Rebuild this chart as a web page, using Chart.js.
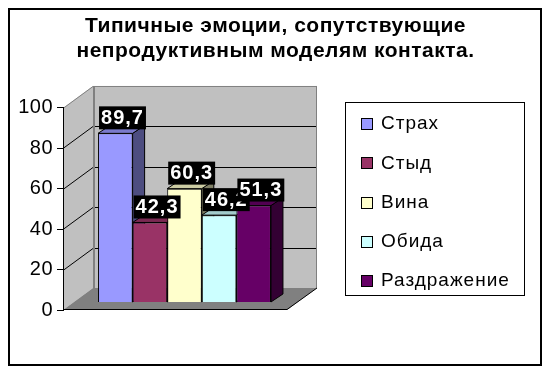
<!DOCTYPE html>
<html>
<head>
<meta charset="utf-8">
<script src="https://cdn.jsdelivr.net/npm/chart.js@4.4.1/dist/chart.umd.min.js"></script>
<style>
  html, body { margin: 0; padding: 0; background: #fff; }
  canvas { display: block; }
</style>
</head>
<body>
<canvas id="emotionsChart" width="551" height="373"></canvas>
<script>
var categories = ["Эмоции"];
var seriesNames = ["Страх", "Стыд", "Вина", "Обида", "Раздражение"];
var seriesValues = [89.7, 42.3, 60.3, 46.2, 51.3];
var seriesColors = ["#9999FF", "#993366", "#FFFFCC", "#CCFFFF", "#660066"];
var yTicks = [0, 20, 40, 60, 80, 100];
var titleLines = ["Типичные эмоции, сопутствующие", "непродуктивным моделям контакта."];

var FONT = "'Liberation Sans', Arial, sans-serif";
var WALL = { x: 30, y: -22 };   // depth of the 3d walls
var BAR_SHIFT = 9.5;            // bars stand a bit deeper than the front axis
var BAR_D = { x: 12, y: -8 };   // depth of each bar

function shade(hex, f) {
  var n = parseInt(hex.slice(1), 16);
  var r = Math.round(((n >> 16) & 255) * f);
  var g = Math.round(((n >> 8) & 255) * f);
  var b = Math.round((n & 255) * f);
  return "rgb(" + r + "," + g + "," + b + ")";
}

function poly(ctx, pts, fill, stroke, lw) {
  ctx.beginPath();
  ctx.moveTo(pts[0][0], pts[0][1]);
  for (var i = 1; i < pts.length; i++) ctx.lineTo(pts[i][0], pts[i][1]);
  ctx.closePath();
  if (fill) { ctx.fillStyle = fill; ctx.fill(); }
  if (stroke) { ctx.strokeStyle = stroke; ctx.lineWidth = lw || 1; ctx.stroke(); }
}

function line(ctx, x1, y1, x2, y2, color, lw) {
  ctx.beginPath();
  ctx.moveTo(x1, y1);
  ctx.lineTo(x2, y2);
  ctx.strokeStyle = color;
  ctx.lineWidth = lw || 1;
  ctx.stroke();
}

var excel3d = {
  id: "excel3d",
  beforeDraw: function (chart) {
    var ctx = chart.ctx;
    var a = chart.chartArea;
    var y = chart.scales.y;
    ctx.save();
    // back wall
    poly(ctx, [[a.left + WALL.x, a.top + WALL.y], [a.right + WALL.x, a.top + WALL.y],
               [a.right + WALL.x, a.bottom + WALL.y], [a.left + WALL.x, a.bottom + WALL.y]], "#c0c0c0");
    // left wall
    poly(ctx, [[a.left, a.top], [a.left + WALL.x, a.top + WALL.y],
               [a.left + WALL.x, a.bottom + WALL.y], [a.left, a.bottom]], "#c0c0c0");
    // floor
    poly(ctx, [[a.left, a.bottom], [a.right, a.bottom],
               [a.right + WALL.x, a.bottom + WALL.y], [a.left + WALL.x, a.bottom + WALL.y]], "#808080");
    // gridlines
    y.ticks.forEach(function (t) {
      var py = Math.round(y.getPixelForValue(t.value)) + 0.5;
      if (t.value > y.min && t.value < y.max) {
        line(ctx, a.left + WALL.x, py + WALL.y, a.right + WALL.x, py + WALL.y, "#000");
        line(ctx, a.left, py, a.left + WALL.x, py + WALL.y, "#000");
      }
    });
    // wall edges
    line(ctx, a.left, a.top + 0.5, a.left + WALL.x, a.top + WALL.y + 0.5, "#808080");
    line(ctx, a.left + WALL.x, a.top + WALL.y + 0.5, a.right + WALL.x, a.top + WALL.y + 0.5, "#808080");
    line(ctx, a.left + WALL.x + 1, a.top + WALL.y, a.left + WALL.x + 1, a.bottom + WALL.y, "#808080", 2);
    line(ctx, a.right + WALL.x - 0.5, a.top + WALL.y, a.right + WALL.x - 0.5, a.bottom + WALL.y, "#808080");
    line(ctx, a.left, a.bottom - 0.5, a.right, a.bottom - 0.5, "#000");
    line(ctx, a.right, a.bottom - 0.5, a.right + WALL.x, a.bottom + WALL.y, "#000");
    ctx.restore();
    // the old excel text is spaced out a little; title and ticks pick this up
    ctx.letterSpacing = "0.5px";
  },
  beforeDatasetsDraw: function (chart) {
    var ctx = chart.ctx;
    ctx.save();
    chart.data.datasets.forEach(function (ds, i) {
      var bar = chart.getDatasetMeta(i).data[0];
      var x0 = bar.x - bar.width / 2 + BAR_SHIFT;
      var x1 = bar.x + bar.width / 2 + BAR_SHIFT;
      var yt = bar.y, yb = bar.base;
      poly(ctx, [[x1, yt], [x1 + BAR_D.x, yt + BAR_D.y], [x1 + BAR_D.x, yb + BAR_D.y], [x1, yb]],
           shade(ds.backgroundColor, 0.5), "#000");
      poly(ctx, [[x0, yt], [x1, yt], [x1 + BAR_D.x, yt + BAR_D.y], [x0 + BAR_D.x, yt + BAR_D.y]],
           shade(ds.backgroundColor, 0.8), "#000");
    });
    ctx.restore();
    ctx.save();
    ctx.translate(BAR_SHIFT, 0);
  },
  afterDatasetsDraw: function (chart) {
    var ctx = chart.ctx;
    ctx.restore();
    ctx.save();
    ctx.font = "bold 20px " + FONT;
    ctx.letterSpacing = "1px";
    ctx.textBaseline = "middle";
    chart.data.datasets.forEach(function (ds, i) {
      var bar = chart.getDatasetMeta(i).data[0];
      var x0 = bar.x - bar.width / 2 + BAR_SHIFT;
      var txt = ds.data[0].toFixed(1).replace(".", ",");
      var w = ctx.measureText(txt).width + 4;
      var bottom = bar.y - 4;
      ctx.fillStyle = "#000";
      ctx.fillRect(x0 + 1, bottom - 23, w, 23);
      ctx.fillStyle = "#fff";
      ctx.fillText(txt, x0 + 3, bottom - 11);
    });
    ctx.restore();
  },
  afterDraw: function (chart) {
    var ctx = chart.ctx;
    ctx.save();
    // legend
    ctx.strokeStyle = "#000";
    ctx.lineWidth = 1;
    ctx.strokeRect(345.5, 102.5, 179, 193);
    ctx.font = "19px " + FONT;
    ctx.letterSpacing = "1px";
    ctx.textBaseline = "middle";
    chart.data.datasets.forEach(function (ds, i) {
      var cy = 124 + i * 39.3;
      ctx.fillStyle = ds.backgroundColor;
      ctx.fillRect(361.5, Math.round(cy - 6) + 0.5, 11, 11);
      ctx.strokeStyle = "#000";
      ctx.strokeRect(361.5, Math.round(cy - 6) + 0.5, 11, 11);
      ctx.fillStyle = "#000";
      ctx.fillText(ds.label, 381, cy);
    });
    // outer frame
    ctx.lineWidth = 2;
    ctx.strokeRect(9, 9, 532, 356);
    ctx.restore();
    ctx.letterSpacing = "0px";
  }
};

var datasets = seriesNames.map(function (name, i) {
  return {
    label: name,
    data: [seriesValues[i]],
    backgroundColor: seriesColors[i],
    borderColor: "#000",
    borderWidth: 1,
    yAxisID: "yb"
  };
});

new Chart(document.getElementById("emotionsChart"), {
  type: "bar",
  data: { labels: categories, datasets: datasets },
  options: {
    responsive: false,
    animation: false,
    events: [],
    layout: { padding: { left: 0, right: 0, top: 0, bottom: 63 } },
    datasets: { bar: { categoryPercentage: 0.772, barPercentage: 1 } },
    plugins: {
      legend: { display: false },
      tooltip: { enabled: false },
      title: {
        display: true,
        text: titleLines,
        color: "#000",
        font: { family: FONT, size: 21, weight: "bold", lineHeight: 1.19 },
        padding: { top: 14, bottom: 44 }
      }
    },
    scales: {
      x: { display: false, offset: true },
      y: {
        min: 0,
        max: 100,
        afterFit: function (scale) { scale.width = 63; },
        afterBuildTicks: function (scale) {
          scale.ticks = yTicks.map(function (v) { return { value: v }; });
        },
        ticks: { color: "#000", padding: 4, font: { family: FONT, size: 20 } },
        grid: { drawOnChartArea: false, color: "#000", tickLength: 6 },
        border: { color: "#000" }
      },
      yb: { display: false, min: -4.26, max: 103.2 },
      // empty right-hand axis that keeps room for the legend
      side: {
        type: "linear",
        position: "right",
        min: 0,
        max: 1,
        afterFit: function (scale) { scale.width = 264; },
        ticks: { display: false },
        grid: { display: false },
        border: { display: false }
      }
    }
  },
  plugins: [excel3d]
});
</script>
</body>
</html>
